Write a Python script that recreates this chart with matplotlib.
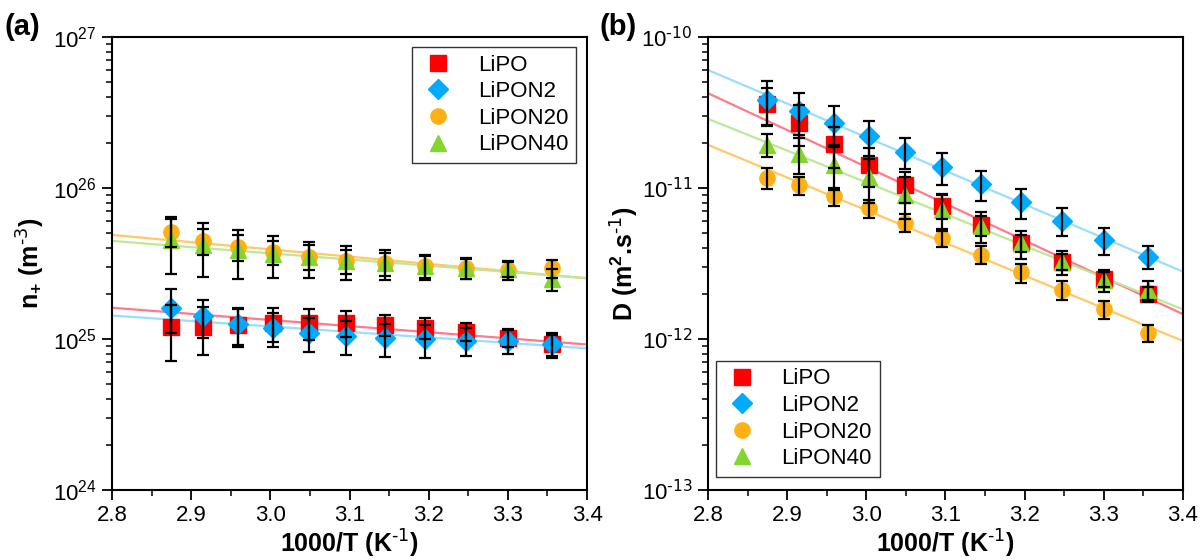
import matplotlib
matplotlib.use("Agg")
import matplotlib.pyplot as plt
import numpy as np
from matplotlib.ticker import LogLocator, MultipleLocator, NullFormatter, FuncFormatter

plt.rcParams['font.family'] = ['Liberation Sans', 'DejaVu Sans']
plt.rcParams['mathtext.default'] = 'regular'

# ---- data ----
x_vals = [2.874, 2.915, 2.959, 3.003, 3.049, 3.096, 3.145, 3.195, 3.247, 3.300, 3.356]
series_names = ["LiPO", "LiPON2", "LiPON20", "LiPON40"]

# panel (a): n+ in units of 1e25 m^-3
n_lipo = [1.20, 1.20, 1.24, 1.28, 1.28, 1.28, 1.24, 1.19, 1.12, 1.02, 0.92]
n_lipo_err = [0.49, 0.42, 0.35, 0.33, 0.30, 0.25, 0.20, 0.19, 0.15, 0.14, 0.17]
n_lipon2 = [1.61, 1.41, 1.26, 1.18, 1.10, 1.05, 1.01, 0.996, 0.975, 0.97, 0.92]
n_lipon2_err = [0.52, 0.40, 0.35, 0.30, 0.28, 0.27, 0.25, 0.25, 0.20, 0.18, 0.15]
n_lipon20 = [5.14, 4.48, 4.08, 3.78, 3.51, 3.30, 3.17, 3.04, 2.94, 2.86, 2.94]
n_lipon20_err = [1.05, 0.90, 0.80, 0.70, 0.65, 0.60, 0.55, 0.50, 0.45, 0.42, 0.39]
n_lipon40 = [4.53, 4.20, 3.88, 3.65, 3.47, 3.29, 3.17, 3.04, 2.97, 2.90, 2.49]
n_lipon40_err = [1.85, 1.64, 1.38, 1.13, 0.95, 0.83, 0.71, 0.58, 0.48, 0.31, 0.40]
n_scale = 1e25

# fitted Arrhenius lines (values at x = 2.8 and 3.4)
fit_x = [2.8, 3.4]
n_fit = {"LiPO": [1.61, 0.92], "LiPON2": [1.43, 0.867],
         "LiPON20": [4.89, 2.52], "LiPON40": [4.46, 2.53]}

# panel (b): D in units of 1e-11 m^2/s
d_lipo = [3.60, 2.71, 1.95, 1.42, 1.04, 0.760, 0.569, 0.431, 0.325, 0.249, 0.198]
d_lipo_err = [1.00, 0.82, 0.60, 0.41, 0.24, 0.14, 0.085, 0.056, 0.039, 0.027, 0.022]
d_lipon2 = [3.83, 3.25, 2.71, 2.21, 1.74, 1.37, 1.06, 0.807, 0.607, 0.453, 0.351]
d_lipon2_err = [1.25, 1.02, 0.78, 0.58, 0.41, 0.33, 0.24, 0.18, 0.126, 0.093, 0.062]
d_lipon20 = [1.17, 1.04, 0.885, 0.735, 0.589, 0.469, 0.362, 0.276, 0.211, 0.157, 0.110]
d_lipon20_err = [0.18, 0.14, 0.12, 0.10, 0.08, 0.065, 0.05, 0.04, 0.03, 0.022, 0.014]
d_lipon40 = [1.93, 1.68, 1.42, 1.18, 0.90, 0.715, 0.562, 0.431, 0.325, 0.246, 0.211]
d_lipon40_err = [0.33, 0.45, 0.45, 0.38, 0.28, 0.20, 0.13, 0.09, 0.06, 0.04, 0.03]
d_scale = 1e-11
d_fit = {"LiPO": [4.24, 0.146], "LiPON2": [6.04, 0.279],
         "LiPON20": [1.93, 0.097], "LiPON40": [2.87, 0.157]}

# ---- styles ----
markers = {"LiPO": "s", "LiPON2": "D", "LiPON20": "o", "LiPON40": "^"}
msizes = {"LiPO": 11, "LiPON2": 10, "LiPON20": 11, "LiPON40": 12}
mcolors = {"LiPO": "#FF0000", "LiPON2": "#00AAFF", "LiPON20": "#FFB014", "LiPON40": "#84D62C"}
lcolors = {"LiPO": "#FF7A8A", "LiPON2": "#99DDFF", "LiPON20": "#FFC966", "LiPON40": "#BDE89A"}

fig = plt.figure(figsize=(12.01, 5.60), dpi=100)
axA = fig.add_axes([0.0933, 0.125, 0.3955, 0.809])
axB = fig.add_axes([0.5895, 0.125, 0.3955, 0.809])

def log_fmt(v, pos):
    k = int(round(np.log10(v)))
    if k < 0:
        return r'$10^{\text{-%d}}$' % (-k)
    return r'$10^{%d}$' % k

def draw(ax, data, fits, scale, ylim, ylabel, ylabelpad, legend_kw):
    for name in series_names:
        ax.plot(fit_x, np.array(fits[name]) * scale, color=lcolors[name], lw=1.6, zorder=1)
    for name in series_names:
        y, e = data[name]
        ax.plot(x_vals, np.array(y) * scale, linestyle='none', marker=markers[name],
                ms=msizes[name], mfc=mcolors[name], mec=mcolors[name], label=name, zorder=2)
    for name in series_names:
        y, e = data[name]
        ax.errorbar(x_vals, np.array(y) * scale, yerr=np.array(e) * scale, fmt='none',
                    ecolor='black', elinewidth=1.6, capsize=4, capthick=1.6, zorder=3)
    ax.set_yscale('log')
    ax.set_xlim(2.8, 3.4)
    ax.set_ylim(*ylim)
    ax.xaxis.set_major_locator(MultipleLocator(0.1))
    ax.xaxis.set_minor_locator(MultipleLocator(0.05))
    ax.xaxis.set_major_formatter(plt.FormatStrFormatter('%.1f'))
    ax.yaxis.set_major_locator(LogLocator(base=10, numticks=10))
    ax.yaxis.set_major_formatter(FuncFormatter(log_fmt))
    ax.yaxis.set_minor_locator(LogLocator(base=10, subs=np.arange(2, 10), numticks=20))
    ax.yaxis.set_minor_formatter(NullFormatter())
    ax.tick_params(which='major', direction='out', length=7, width=1.3, labelsize=16,
                   top=False, right=False, pad=4)
    ax.tick_params(which='minor', direction='out', length=4, width=1.1, top=False, right=False)
    for s in ax.spines.values():
        s.set_linewidth(1.5)
    ax.set_xlabel(r'1000/T (K$^{\text{-1}}$)', fontsize=18, fontweight='bold', labelpad=1)
    ax.set_ylabel(ylabel, fontsize=18, fontweight='bold', labelpad=ylabelpad)
    leg = ax.legend(frameon=True, fancybox=False, edgecolor='black', fontsize=16,
                    handletextpad=1.0, labelspacing=0.25, borderpad=0.35,
                    borderaxespad=0, handlelength=1.6, **legend_kw)
    leg.get_frame().set_linewidth(1.0)

dataA = {"LiPO": (n_lipo, n_lipo_err), "LiPON2": (n_lipon2, n_lipon2_err),
         "LiPON20": (n_lipon20, n_lipon20_err), "LiPON40": (n_lipon40, n_lipon40_err)}
dataB = {"LiPO": (d_lipo, d_lipo_err), "LiPON2": (d_lipon2, d_lipon2_err),
         "LiPON20": (d_lipon20, d_lipon20_err), "LiPON40": (d_lipon40, d_lipon40_err)}

draw(axA, dataA, n_fit, n_scale, (1e24, 1e27), r'n$_{+}$ (m$^{\text{-3}}$)', 4,
     dict(loc='upper right', bbox_to_anchor=(0.977, 0.978)))
draw(axB, dataB, d_fit, d_scale, (1e-13, 1e-10), r'D (m$^{2}$.s$^{\text{-1}}$)', 0,
     dict(loc='lower left', bbox_to_anchor=(0.017, 0.029)))

fig.text(0.004, 0.952, '(a)', fontsize=21, fontweight='bold', va='center', ha='left')
fig.text(0.499, 0.952, '(b)', fontsize=21, fontweight='bold', va='center', ha='left')

fig.savefig('out.png', dpi=100)
